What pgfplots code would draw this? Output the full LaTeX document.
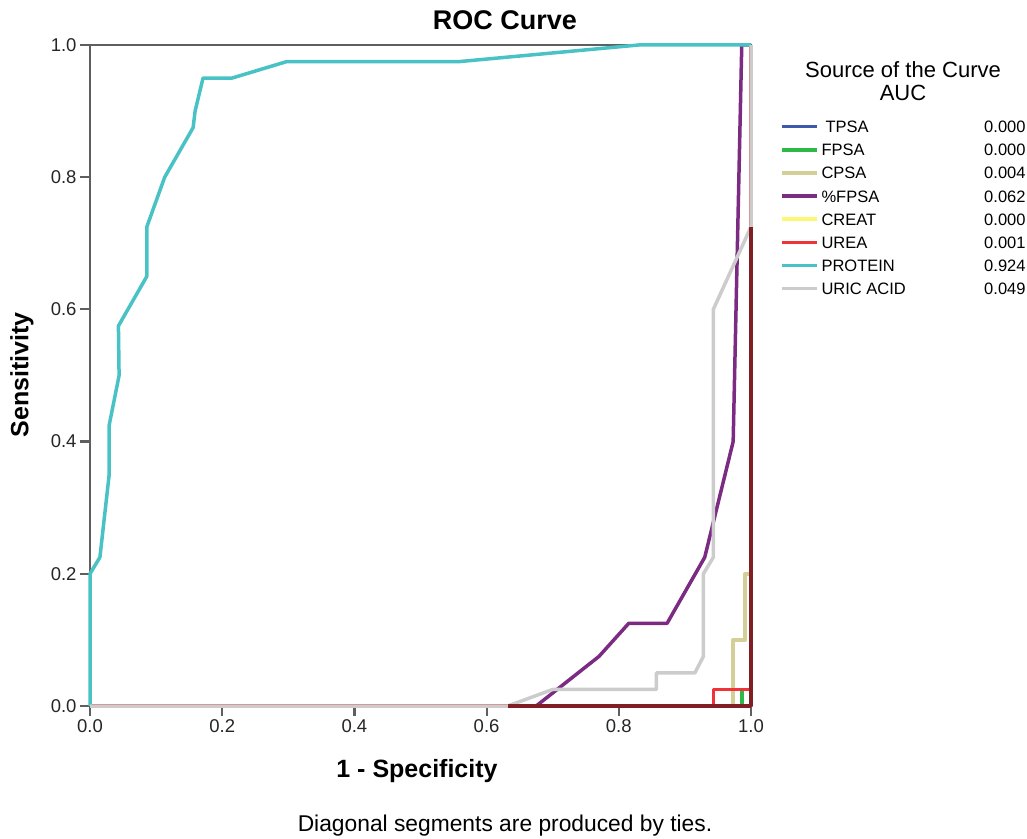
\documentclass[border=0pt]{standalone}
\usepackage{pgfplots}
\pgfplotsset{compat=1.18}
\usepackage{fontspec}
\setmainfont{Liberation Sans}
\definecolor{axisgray}{RGB}{95,95,95}
\definecolor{cTPSA}{RGB}{62,88,172}
\definecolor{cFPSA}{RGB}{46,184,72}
\definecolor{cCPSA}{RGB}{212,206,151}
\definecolor{cPFPSA}{RGB}{124,43,131}
\definecolor{cCREAT}{RGB}{251,248,115}
\definecolor{cUREA}{RGB}{239,51,56}
\definecolor{cPROT}{RGB}{72,194,197}
\definecolor{cURIC}{RGB}{204,204,204}
\definecolor{cDark}{RGB}{128,30,35}
\newcommand{\lgent}[2]{\makebox[204pt][s]{#1\hfill#2}}
\begin{document}
\begin{tikzpicture}
\useasboundingbox (0,0) rectangle (1027pt,838pt);
\begin{axis}[
  at={(90pt,132pt)}, anchor=south west,
  scale only axis, width=661pt, height=661pt,
  xmin=0, xmax=1, ymin=0, ymax=1, clip=false,
  xtick={0,0.2,0.4,0.6,0.8,1}, ytick={0,0.2,0.4,0.6,0.8,1},
  xtick pos=bottom, ytick pos=left,
  tick align=outside, major tick length=10pt,
  tick style={draw=axisgray, line width=2.2pt},
  axis line style={draw=axisgray, line width=2.2pt},
  ticklabel style={font=\fontsize{18.5}{20}\selectfont, text=black!85},
  /pgf/number format/fixed, /pgf/number format/fixed zerofill,
  /pgf/number format/precision=1, /pgf/number format/assume math mode=true,
  legend style={at={(1.0439,0.894)}, anchor=north west, draw=none, fill=none,
    inner sep=0pt, outer sep=0pt, column sep=3pt, row sep=0pt,
    font=\fontsize{16.5}{18}\selectfont,
    nodes={inner sep=0pt, text height=17.5pt, text depth=5.65pt}},
  legend cell align=left,
  legend image code/.code={\draw[#1, line width=3.5pt] (0pt,0pt) -- (35pt,0pt);},
  every axis plot/.append style={line width=3.5pt, line join=round},
]
\addplot[cTPSA] coordinates {(0,0) (1,0) (1,1)};
\addlegendentry{\lgent{\hspace{4pt}TPSA}{0.000}}
\addplot[cFPSA] coordinates {(0,0) (0.986,0) (0.986,0.025) (1,0.025) (1,1)};
\addlegendentry{\lgent{FPSA}{0.000}}
\addplot[cCPSA] coordinates {(0,0) (0.973,0) (0.973,0.1) (0.991,0.1) (0.991,0.2) (1,0.2) (1,1)};
\addlegendentry{\lgent{CPSA}{0.004}}
\addplot[cPFPSA] coordinates {(0,0) (0.675,0) (0.77,0.075) (0.815,0.125) (0.873,0.125) (0.93,0.225) (0.973,0.4) (0.986,1) (1,1)};
\addlegendentry{\lgent{\%FPSA}{0.062}}
\addplot[cCREAT] coordinates {(0,0) (1,0) (1,1)};
\addlegendentry{\lgent{CREAT}{0.000}}
\addplot[cUREA] coordinates {(0,0) (0.943,0) (0.943,0.025) (1,0.025) (1,1)};
\addlegendentry{\lgent{UREA}{0.001}}
\addplot[cPROT] coordinates {(0,0) (0,0.2) (0.015,0.225) (0.029,0.35) (0.029,0.425) (0.044,0.5) (0.043,0.575) (0.086,0.65) (0.086,0.725) (0.113,0.8) (0.156,0.875) (0.159,0.9) (0.171,0.95) (0.215,0.95) (0.298,0.975) (0.56,0.975) (0.83,1) (1,1)};
\addlegendentry{\lgent{PROTEIN}{0.924}}
\addplot[cURIC] coordinates {(0,0) (0.632,0) (0.7,0.025) (0.857,0.025) (0.857,0.05) (0.915,0.05) (0.928,0.075) (0.928,0.2) (0.943,0.225) (0.943,0.6) (1,0.725) (1,1)};
\addlegendentry{\lgent{URIC ACID}{0.049}}
\addplot[cDark, forget plot] coordinates {(0.632,0) (1,0) (1,0.725)};
\end{axis}
\node[font=\bfseries\fontsize{27}{30}\selectfont] at (505pt,818pt) {ROC Curve};
\node[font=\bfseries\fontsize{25}{28}\selectfont, rotate=90] at (22pt,463pt) {Sensitivity};
\node[font=\bfseries\fontsize{25}{28}\selectfont] at (417pt,67pt) {1 - Specificity};
\node[font=\fontsize{22.8}{24}\selectfont] at (505pt,12pt) {Diagonal segments are produced by ties.};
\node[font=\fontsize{22}{23}\selectfont, align=center] at (903pt,757pt) {Source of the Curve\\AUC};
\end{tikzpicture}
\end{document}
